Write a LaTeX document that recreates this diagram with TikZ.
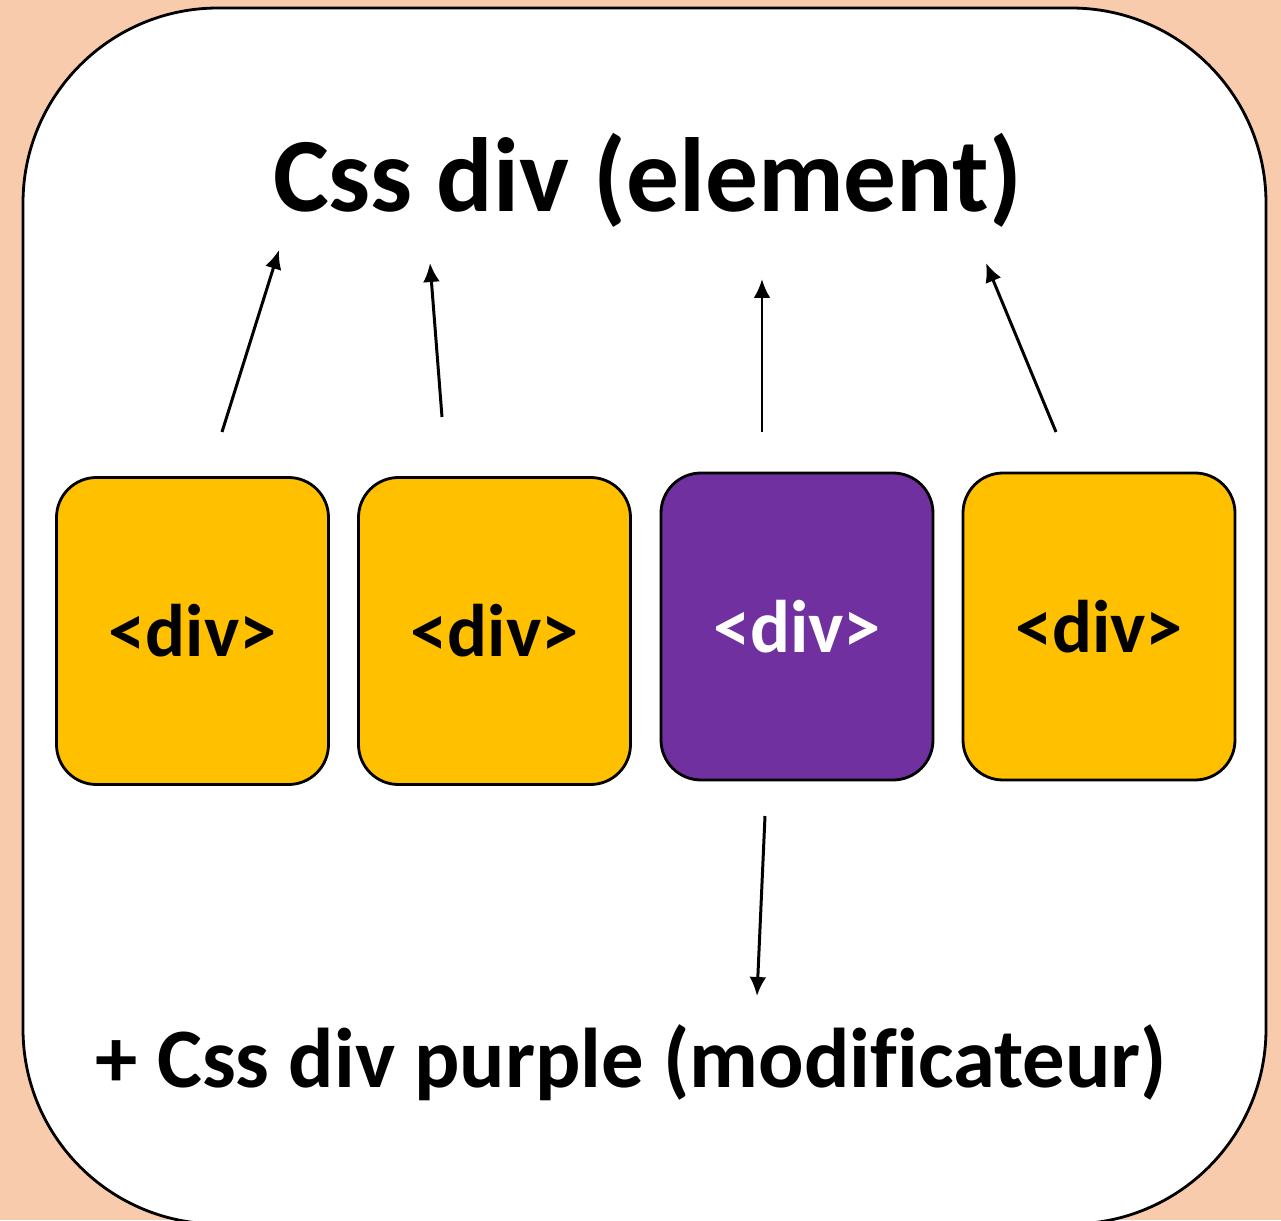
\documentclass[tikz,border=0pt]{standalone}
\usepackage{fontspec}
\setmainfont{Carlito}[Ligatures=NoCommon]
\usetikzlibrary{arrows.meta}
\definecolor{pfirsich}{HTML}{F8CBAD}
\definecolor{gelb}{HTML}{FFC000}
\definecolor{lila}{HTML}{7030A0}
\tikzset{
	divbox/.style={draw=black, line width=0.8pt, rounded corners=0.4cm, minimum width=2.72cm, minimum height=3.07cm, font=\fontsize{21.2}{25}\selectfont\bfseries},
	pfeil/.style={line width=0.85pt, -{Latex[length=5.4pt,width=4.8pt]}}
}
\begin{document}
\begin{tikzpicture}
	\useasboundingbox (0,0) rectangle (12.81,12.20);
	\clip (0,0) rectangle (12.81,12.20);
	\fill[pfirsich] (0,0) rectangle (12.81,12.20);%Hintergrund
	\draw[line width=0.8pt, fill=white, rounded corners=1.95cm] (0.23,12.12) rectangle (12.66,-0.04);
	
	\node[anchor=base, font=\fontsize{30}{36}\selectfont\bfseries] (titel) at (6.475, 10.08) {Css div (element)};
	\node[anchor=base, font=\fontsize{24.1}{29}\selectfont\bfseries] (mod) at (6.315, 1.33) {+ Css div purple (modificateur)};
	
	%Boxen
	\node[divbox, fill=gelb] (d1) at (1.925, 5.89) {<div>};
	\node[divbox, fill=gelb] (d2) at (4.945, 5.89) {<div>};
	\node[divbox, fill=lila, text=white] (d3) at (7.97, 5.935) {<div>};
	\node[divbox, fill=gelb] (d4) at (10.99, 5.935) {<div>};
	
	%Pfeile
	\coordinate (A1) at (2.22, 7.88);
	\coordinate (a1) at (2.79, 9.70);
	\coordinate (A2) at (4.42, 8.03);
	\coordinate (a2) at (4.30, 9.57);
	\coordinate (A3) at (7.62, 7.88);
	\coordinate (a3) at (7.62, 9.41);
	\coordinate (A4) at (10.56, 7.88);
	\coordinate (a4) at (9.86, 9.57);
	\coordinate (B) at (7.65, 4.04);
	\coordinate (b) at (7.57, 2.24);
	\draw[pfeil] (A1) -- (a1);
	\draw[pfeil] (A2) -- (a2);
	\draw[pfeil] (A3) -- (a3);
	\draw[pfeil] (A4) -- (a4);
	\draw[pfeil] (B) -- (b);
\end{tikzpicture}
\end{document}
